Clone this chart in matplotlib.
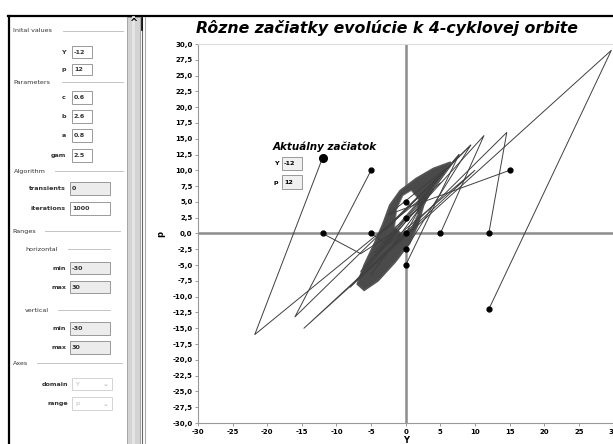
import matplotlib
matplotlib.use("Agg")
import matplotlib.pyplot as plt
from matplotlib.patches import Rectangle, Polygon

# ---- data (Y, p) ----
# trajectories from the starting points (each a polyline)
traj_start_Y = [-12, -21.8, 5.0]
traj_start_p = [12, -16.0, 8.0]
traj_b_Y = [-5, -16.0, 9.4, -3.0]
traj_b_p = [10, -13.2, 14.0, 0.5]
traj_c_Y = [12, 29.7, -14.7, 10.0, -4.0]
traj_c_p = [-12, 29.0, -15.0, 10.0, -3.0]
traj_d_Y = [12, 14.6, -8.0, 4.0]
traj_d_p = [0, 16.0, -8.5, 7.0]
traj_e_Y = [5, 11.3, -6.5, 3.0]
traj_e_p = [0, 15.5, -6.0, 6.0]
traj_f_Y = [15, -2.5, 5.5]
traj_f_p = [10, 3.0, 10.0]
traj_g_Y = [-12, -6.5, -2.0]
traj_g_p = [0, -3.2, 0.0]
traj_h_Y = [-5, -3.0, 7.7, -5.0]
traj_h_p = [0, -1.5, 12.5, -6.5]
traj_i_Y = [0, 9.4, -2.5]
traj_i_p = [-2.5, 14.0, 1.0]
traj_j_Y = [0, 7.7, -4.5]
traj_j_p = [-5, 12.5, -3.0]
traj_k_Y = [0, 2.0, -1.5]
traj_k_p = [0, 4.0, 1.0]
trajectories = [
    (traj_start_Y, traj_start_p), (traj_b_Y, traj_b_p), (traj_c_Y, traj_c_p),
    (traj_d_Y, traj_d_p), (traj_e_Y, traj_e_p), (traj_f_Y, traj_f_p),
    (traj_g_Y, traj_g_p), (traj_h_Y, traj_h_p), (traj_i_Y, traj_i_p),
    (traj_j_Y, traj_j_p), (traj_k_Y, traj_k_p),
]

# starting points (black dots)
start_Y = [-5, 15, -12, -5, 0, 5, 12, 0, 0, 0, 0, 12]
start_p = [10, 10, 0, 0, 0, 0, 0, 5, 2.5, -2.5, -5, -12]
current_Y = -12
current_p = 12

# dense attractor band (outer edge and hole)
band_Y = [-7.0, -6.0, -4.5, -3.3, -2.3, -0.8, 1.5, 4.0, 6.5, 5.5, 3.8, 2.6, 1.8, 0.6, -1.5, -4.0, -6.0]
band_p = [-8.0, -5.0, -1.5, 1.5, 4.5, 6.8, 8.7, 10.3, 11.3, 9.5, 7.0, 4.5, 1.5, -1.5, -4.5, -7.5, -9.0]
hole_Y = [-1.6, -1.3, -0.4, 0.8, 1.8, 1.7, 0.8, -0.6]
hole_p = [1.0, 3.8, 6.0, 6.8, 5.5, 3.0, 0.8, 0.0]

y_ticks = [-30 + 2.5 * i for i in range(25)]
x_ticks = [-30, -25, -20, -15, -10, -5, 0, 5, 10, 15, 20, 25, 30]

W, H = 613, 444
fig = plt.figure(figsize=(W / 100, H / 100), dpi=100)
fig.patch.set_facecolor("white")

# ---- main plot ----
ax = fig.add_axes([198 / W, 21 / H, 415.4 / W, 379 / H])
ax.set_xlim(-30, 30)
ax.set_ylim(-30, 30)
ax.axhline(0, color="#8c8c8c", lw=1.8, zorder=1)
ax.axvline(0, color="#8c8c8c", lw=1.8, zorder=1)

ax.add_patch(Polygon(list(zip(band_Y, band_p)), closed=True, facecolor="#4a4a4a",
                     edgecolor="#555555", lw=1.2, zorder=2))
ax.add_patch(Polygon(list(zip(hole_Y, hole_p)), closed=True, facecolor="white",
                     edgecolor="#777777", lw=0.6, zorder=2))

for ty, tp in trajectories:
    ax.plot(ty, tp, color="#3f3f3f", lw=0.7, zorder=3)

ax.plot(start_Y, start_p, "o", color="black", ms=3.5, zorder=4)
ax.plot([current_Y], [current_p], "o", color="black", ms=5.5, zorder=4)

ax.set_xticks(x_ticks)
ax.set_xticklabels([str(v) for v in x_ticks], fontsize=5, fontweight="bold")
ax.set_yticks(y_ticks)
ax.set_yticklabels([f"{v:.1f}".replace(".", ",") for v in y_ticks], fontsize=5,
                   fontweight="bold")
ax.tick_params(length=2, width=0.6, color="#888888", pad=2)
ax.spines["right"].set_visible(False)
ax.spines["top"].set_color("#dddddd")
ax.spines["left"].set_color("#999999")
ax.spines["bottom"].set_color("#999999")
ax.set_xlabel("Y", fontsize=6, fontweight="bold", labelpad=1)
ax.set_ylabel("p", fontsize=6, fontweight="bold", labelpad=5)

# ---- GUI overlay in pixel coordinates ----
g = fig.add_axes([0, 0, 1, 1])
g.set_xlim(0, W)
g.set_ylim(H, 0)
g.axis("off")
g.patch.set_alpha(0)

g.plot([8, W], [16, 16], color="black", lw=1.6)
g.plot([9, 9], [16, H], color="black", lw=1.6)

# scrollbar / splitter
g.add_patch(Rectangle((127, 17), 13, H - 17, facecolor="#d4d4d4", edgecolor="#9a9a9a", lw=0.6))
g.plot([133, 133], [17, H], color="#e6e6e6", lw=2)
g.text(133, 23, "^", fontsize=7, fontweight="bold", ha="center", va="center")
g.plot([142, 142], [17, H], color="#666666", lw=0.8)
g.plot([145, 145], [17, H], color="#aaaaaa", lw=0.8)
g.plot([142, 142], [18, 30], color="black", lw=1.2)

txt = dict(fontsize=4.6, color="#333333", va="center")

headers = [("Inital values", 13, 31, 63, 123), ("Parameters", 13, 82, 62, 123),
           ("Algorithm", 14, 171, 55, 123), ("Ranges", 12, 231, 45, 120),
           ("horizontal", 25, 249, 68, 110), ("vertical", 25, 310, 58, 110),
           ("Axes", 13, 363, 37, 122)]
for label, x, y, l0, l1 in headers:
    g.text(x, y, label, **txt)
    g.plot([l0, l1], [y, y], color="#c4c4c4", lw=0.7)

fields = [("Y", "-12", 66, 72, 92, 46, 58, "white"),
          ("p", "12", 66, 72, 92, 64, 75, "white"),
          ("c", "0.6", 66, 72, 92, 91, 104, "white"),
          ("b", "2.6", 66, 72, 92, 110, 123, "white"),
          ("a", "0.8", 66, 72, 92, 129, 142, "white"),
          ("gam", "2.5", 66, 72, 92, 149, 162, "white"),
          ("transients", "0", 66, 70, 110, 182, 195, "#ececec"),
          ("iterations", "1000", 66, 70, 110, 202, 215, "white"),
          ("min", "-30", 66, 70, 110, 262, 274, "#ececec"),
          ("max", "30", 66, 70, 110, 281, 293, "#ececec"),
          ("min", "-30", 66, 70, 110, 322, 335, "#ececec"),
          ("max", "30", 66, 70, 110, 341, 354, "#ececec")]
for label, value, lx, x0, x1, y0, y1, fc in fields:
    g.add_patch(Rectangle((x0, y0), x1 - x0, y1 - y0, facecolor=fc, edgecolor="#8a8a8a", lw=0.6))
    g.text(lx, (y0 + y1) / 2, label, ha="right", fontweight="bold", **txt)
    g.text(x0 + 2, (y0 + y1) / 2, value, fontweight="bold", **txt)

for label, value, y0, y1 in [("domain", "Y", 378, 390), ("range", "p", 397, 410)]:
    g.add_patch(Rectangle((72, y0), 40, y1 - y0, facecolor="white", edgecolor="#cccccc", lw=0.6))
    g.text(68, (y0 + y1) / 2, label, ha="right", fontweight="bold", fontsize=4.6,
           color="#333333", va="center")
    g.text(75, (y0 + y1) / 2, value, fontsize=4.6, color="#bbbbbb", va="center")
    g.text(105, (y0 + y1) / 2, "\u2304", fontsize=5, color="#aaaaaa", va="center", ha="center")

# title and annotation
g.text(387, 28, "Rôzne začiatky evolúcie k 4-cyklovej orbite", fontsize=11.3,
       fontweight="bold", fontstyle="italic", ha="center", va="center")
g.text(273, 147, "Aktuálny začiatok", fontsize=7.5, fontweight="bold",
       fontstyle="italic", ha="left", va="center")
for label, value, y0, y1 in [("Y", "-12", 157, 170), ("p", "12", 175, 189)]:
    g.add_patch(Rectangle((282, y0), 20, y1 - y0, facecolor="#f0f0f0", edgecolor="#8a8a8a", lw=0.6))
    g.text(276, (y0 + y1) / 2, label, fontsize=4.6, fontweight="bold", ha="center", va="center")
    g.text(284, (y0 + y1) / 2, value, fontsize=4.6, fontweight="bold", va="center")

fig.savefig("out.png", dpi=100)
plt.close(fig)
